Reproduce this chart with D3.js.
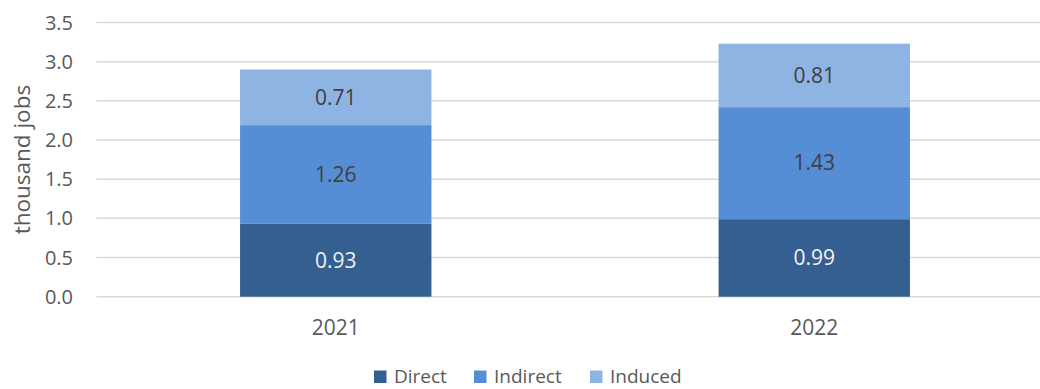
<!DOCTYPE html>
<html>
<head>
<meta charset="utf-8">
<script src="https://cdn.jsdelivr.net/npm/d3@7"></script>
<style>
  html, body { margin: 0; padding: 0; background: #fff; }
  svg { display: block; font-family: "Open Sans", "Noto Sans", sans-serif; }
</style>
</head>
<body>
<svg id="chart" width="1040" height="389"></svg>
<script>
// Employment by year, split by effect type (thousand jobs)
const years = ["2021", "2022"];
const seriesNames = ["Direct", "Indirect", "Induced"];
const direct = [0.93, 0.99];
const indirect = [1.26, 1.43];
const induced = [0.71, 0.81];
const yTicks = [0, 0.5, 1, 1.5, 2, 2.5, 3, 3.5];

const colors = { Direct: "#355f91", Indirect: "#558ed5", Induced: "#8db4e3" };
const labelColors = { Direct: "#f2f2f2", Indirect: "#404040", Induced: "#404040" };

const rows = years.map((y, i) => ({
  year: y, Direct: direct[i], Indirect: indirect[i], Induced: induced[i]
}));

const svg = d3.select("#chart");
const plot = { left: 96.5, right: 1053.5, top: 22.5, bottom: 296.7 };

const x = d3.scaleBand()
  .domain(years)
  .range([plot.left, plot.right])
  .paddingInner(0.6)
  .paddingOuter(0.3);

const y = d3.scaleLinear()
  .domain([0, 3.5])
  .range([plot.bottom, plot.top]);

// Horizontal gridlines
svg.append("g")
  .selectAll("line")
  .data(yTicks)
  .join("line")
  .attr("x1", plot.left)
  .attr("x2", plot.right)
  .attr("y1", d => y(d))
  .attr("y2", d => y(d))
  .attr("stroke", "#d9d9d9")
  .attr("stroke-width", 1.5);

// Y tick labels
svg.append("g")
  .selectAll("text")
  .data(yTicks)
  .join("text")
  .attr("x", 73)
  .attr("y", d => y(d))
  .attr("dy", "0.35em")
  .attr("text-anchor", "end")
  .attr("font-size", 20)
  .attr("fill", "#595959")
  .text(d => d3.format(".1f")(d));

// Y axis title
svg.append("text")
  .attr("transform", `translate(22,${(plot.top + plot.bottom) / 2}) rotate(-90)`)
  .attr("dy", "0.35em")
  .attr("text-anchor", "middle")
  .attr("font-size", 22.5)
  .attr("fill", "#595959")
  .text("thousand jobs");

// Stacked bars
const stacked = d3.stack().keys(seriesNames)(rows);

const layers = svg.append("g")
  .selectAll("g")
  .data(stacked)
  .join("g")
  .attr("fill", d => colors[d.key]);

layers.selectAll("rect")
  .data(d => d)
  .join("rect")
  .attr("x", d => x(d.data.year))
  .attr("width", x.bandwidth())
  .attr("y", d => y(d[1]))
  .attr("height", d => y(d[0]) - y(d[1]));

// Value labels centred in each segment
const labels = svg.append("g");
stacked.forEach(layer => {
  labels.selectAll(null)
    .data(layer)
    .join("text")
    .attr("x", d => x(d.data.year) + x.bandwidth() / 2)
    .attr("y", d => (y(d[0]) + y(d[1])) / 2)
    .attr("dy", "0.35em")
    .attr("text-anchor", "middle")
    .attr("font-size", 21)
    .attr("fill", labelColors[layer.key])
    .text(d => d3.format(".2f")(d.data[layer.key]));
});

// X category labels
svg.append("g")
  .selectAll("text")
  .data(years)
  .join("text")
  .attr("x", d => x(d) + x.bandwidth() / 2)
  .attr("y", 328)
  .attr("dy", "0.35em")
  .attr("text-anchor", "middle")
  .attr("font-size", 21)
  .attr("fill", "#595959")
  .text(d => d);

// Legend
const legendX = [374, 474, 590];
const legend = svg.append("g")
  .selectAll("g")
  .data(seriesNames)
  .join("g")
  .attr("transform", (d, i) => `translate(${legendX[i]},376.5)`);

legend.append("rect")
  .attr("x", 0)
  .attr("y", -6)
  .attr("width", 12.5)
  .attr("height", 12.5)
  .attr("fill", d => colors[d]);

legend.append("text")
  .attr("x", 20)
  .attr("y", 0)
  .attr("dy", "0.35em")
  .attr("font-size", 19)
  .attr("fill", "#595959")
  .text(d => d);
</script>
</body>
</html>
